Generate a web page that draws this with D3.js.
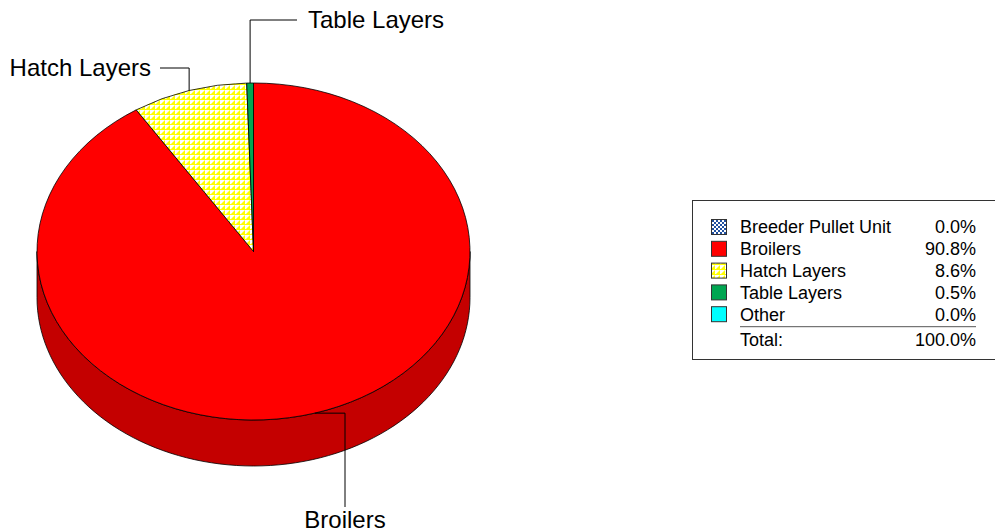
<!DOCTYPE html>
<html>
<head>
<meta charset="utf-8">
<script src="https://cdnjs.cloudflare.com/ajax/libs/d3/7.8.5/d3.min.js"></script>
<style>
  body { margin: 0; background: #fff; }
  svg { display: block; font-family: "Liberation Sans", Arial, sans-serif; }
</style>
</head>
<body>
<div class="chart"></div>
<script>
// data
var categories = ["Breeder Pullet Unit", "Broilers", "Hatch Layers", "Table Layers", "Other"];
var values = [0.0, 90.8, 8.6, 0.5, 0.0];
var totalValue = 100.0;
var totalLabel = "Total:";
var fills = ["url(#patBreeder)", "#ff0000", "url(#patHatch)", "#00a651", "#00ffff"];
var sideFills = ["#8fa6c8", "#c40000", "#c8c800", "#007a3a", "#00c0c0"];

var width = 995, height = 532;
var cx = 253.5, cy = 251.5, rx = 216.5, ry = 168.5, depth = 46;

var svg = d3.select(".chart").append("svg")
    .attr("width", width)
    .attr("height", height);

var defs = svg.append("defs");

// blue dotted pattern
var pb = defs.append("pattern").attr("id", "patBreeder")
    .attr("patternUnits", "userSpaceOnUse").attr("width", 4).attr("height", 4);
pb.append("rect").attr("width", 4).attr("height", 4).attr("fill", "#ffffff");
pb.append("rect").attr("width", 2).attr("height", 2).attr("fill", "#2050a0");
pb.append("rect").attr("x", 2).attr("y", 2).attr("width", 2).attr("height", 2).attr("fill", "#2050a0");

// yellow triangle pattern
var ph = defs.append("pattern").attr("id", "patHatch")
    .attr("patternUnits", "userSpaceOnUse").attr("width", 5).attr("height", 5);
ph.append("rect").attr("width", 5).attr("height", 5).attr("fill", "#ffffff");
ph.append("path").attr("d", "M0,5L5,0L5,5Z").attr("fill", "#ffff00");
ph.append("rect").attr("x", 0).attr("y", 4).attr("width", 5).attr("height", 1).attr("fill", "#ffff00");

var pie = d3.pie().sort(null).value(function(d) { return d; });
var arcs = pie(values);

function pt(a, dy) {
    return [cx + rx * Math.sin(a), cy - ry * Math.cos(a) + (dy || 0)];
}

// side wall (front half only: angles pi/2 .. 3pi/2)
var side = svg.append("g").attr("class", "side");
arcs.forEach(function(d, i) {
    var a0 = Math.max(d.startAngle, Math.PI / 2),
        a1 = Math.min(d.endAngle, 3 * Math.PI / 2);
    if (a1 <= a0) return;
    var n = 80, top = [], bot = [];
    for (var k = 0; k <= n; k++) {
        var a = a0 + (a1 - a0) * k / n;
        top.push(pt(a, 0));
        bot.push(pt(a, depth));
    }
    var pts = top.concat(bot.reverse());
    side.append("path")
        .attr("d", d3.line()(pts) + "Z")
        .attr("fill", sideFills[i])
        .attr("stroke", "#000")
        .attr("stroke-width", 0.8);
});

// top slices
var topG = svg.append("g").attr("class", "top");
arcs.forEach(function(d, i) {
    if (d.endAngle - d.startAngle <= 0) return;
    var p0 = pt(d.startAngle), p1 = pt(d.endAngle);
    var large = (d.endAngle - d.startAngle) > Math.PI ? 1 : 0;
    topG.append("path")
        .attr("d", "M" + cx + "," + cy + "L" + p0 + "A" + rx + "," + ry + " 0 " + large + " 1 " + p1 + "Z")
        .attr("fill", fills[i])
        .attr("stroke", "#000")
        .attr("stroke-width", 0.8)
        .attr("stroke-linejoin", "round");
});

// callout labels
var callouts = [
    { i: 3, elbowY: 20, endX: 297, textX: 308, textY: 20, anchor: "start" },
    { i: 2, elbowY: 68, endX: 160, textX: 151, textY: 68, anchor: "end" },
    { i: 1, elbowX: 345, endY: 507, textX: 345, textY: 520, anchor: "middle" }
];
var lab = svg.append("g").attr("class", "labels");
callouts.forEach(function(c) {
    var d = arcs[c.i];
    var p = pt((d.startAngle + d.endAngle) / 2);
    var pts;
    if (c.elbowY !== undefined) {
        pts = [p, [p[0], c.elbowY], [c.endX, c.elbowY]];
    } else {
        pts = [p, [c.elbowX, p[1]], [c.elbowX, c.endY]];
    }
    lab.append("path")
        .attr("d", d3.line()(pts))
        .attr("fill", "none")
        .attr("stroke", "#000")
        .attr("stroke-width", 1);
    lab.append("text")
        .attr("x", c.textX)
        .attr("y", c.textY)
        .attr("dy", "0.35em")
        .attr("text-anchor", c.anchor)
        .attr("font-size", 24)
        .attr("fill", "#000")
        .text(categories[c.i]);
});

// legend
var lg = svg.append("g").attr("class", "legend");
lg.append("rect")
    .attr("x", 692.5).attr("y", 200.5)
    .attr("width", 320).attr("height", 159)
    .attr("fill", "#fff")
    .attr("stroke", "#333")
    .attr("stroke-width", 1);

var rowY = d3.scaleLinear().domain([0, 1]).range([227, 248.8]);
var fmt = d3.format(".1f");
var fs = 18;

categories.forEach(function(name, i) {
    var y = rowY(i);
    lg.append("rect")
        .attr("x", 711.5).attr("y", y - 7.5)
        .attr("width", 15).attr("height", 15)
        .attr("fill", fills[i])
        .attr("stroke", "#333")
        .attr("stroke-width", 1);
    lg.append("text")
        .attr("x", 740).attr("y", y).attr("dy", "0.35em")
        .attr("font-size", fs)
        .text(name);
    lg.append("text")
        .attr("x", 976).attr("y", y).attr("dy", "0.35em")
        .attr("text-anchor", "end")
        .attr("font-size", fs)
        .text(fmt(values[i]) + "%");
});

var lineY = rowY(4) + 12.5;
lg.append("line")
    .attr("x1", 740).attr("x2", 976)
    .attr("y1", lineY).attr("y2", lineY)
    .attr("stroke", "#555").attr("stroke-width", 1);

lg.append("text")
    .attr("x", 740).attr("y", rowY(5) + 4).attr("dy", "0.35em")
    .attr("font-size", fs)
    .text(totalLabel);
lg.append("text")
    .attr("x", 976).attr("y", rowY(5) + 4).attr("dy", "0.35em")
    .attr("text-anchor", "end")
    .attr("font-size", fs)
    .text(fmt(totalValue) + "%");
</script>
</body>
</html>
